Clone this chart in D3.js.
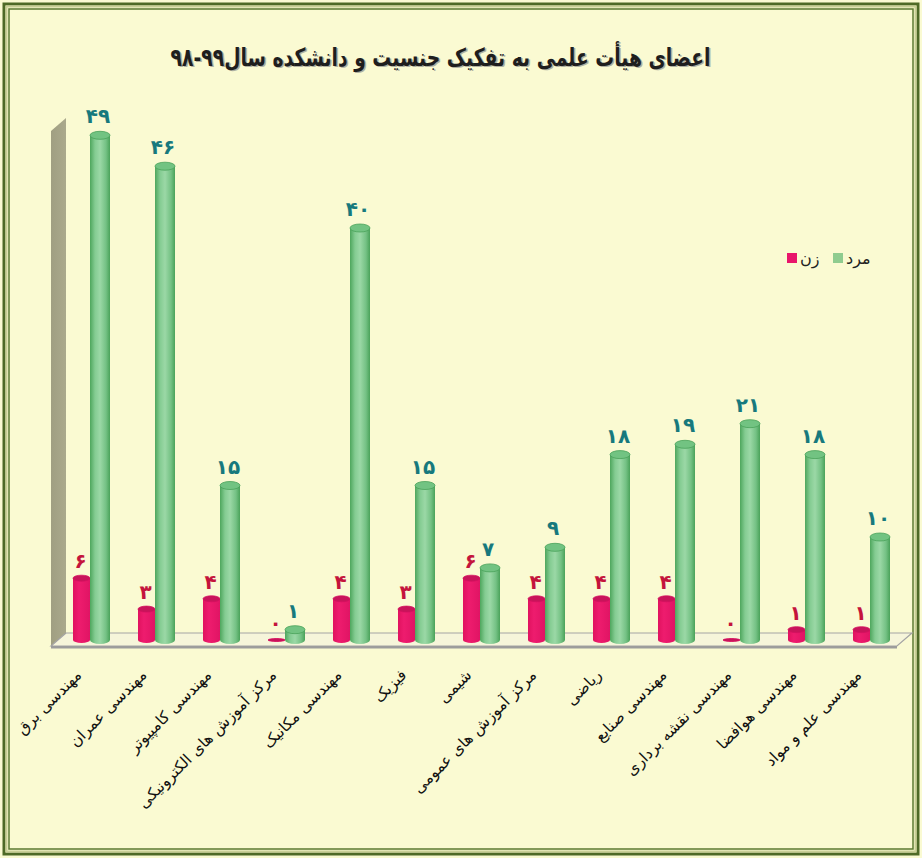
<!DOCTYPE html>
<html lang="fa">
<head>
<meta charset="utf-8">
<script src="https://cdn.jsdelivr.net/npm/d3@7/dist/d3.min.js"></script>
<style>
  html, body { margin: 0; padding: 0; background: #fafad2; }
  svg { display: block; }
  text { font-family: "DejaVu Sans", "Noto Sans", sans-serif; }
</style>
</head>
<body>
<svg id="chart" width="922" height="858"></svg>
<script>
// Faculty members by gender and faculty
const categories = [
  "مهندسی برق",
  "مهندسی عمران",
  "مهندسی کامپیوتر",
  "مرکز آموزش های الکترونیکی",
  "مهندسی مکانیک",
  "فیزیک",
  "شیمی",
  "مرکز آموزش های عمومی",
  "ریاضی",
  "مهندسی صنایع",
  "مهندسی نقشه برداری",
  "مهندسی هوافضا",
  "مهندسی علم و مواد"
];
const women = [6, 3, 4, 0, 4, 3, 6, 4, 4, 4, 0, 1, 1];
const men   = [49, 46, 15, 1, 40, 15, 7, 9, 18, 19, 21, 18, 10];
const seriesNames = ["زن", "مرد"];
const titleText = "اعضای هیأت علمی به تفکیک جنسیت و دانشکده سال۹۹-۹۸";

const faDigits = "۰۱۲۳۴۵۶۷۸۹";
const toFa = n => String(n).replace(/\d/g, d => faDigits[+d]);

const svg = d3.select("#chart");
const W = 922, H = 858;

// frame
svg.append("rect").attr("x", 0).attr("y", 0).attr("width", W).attr("height", H).attr("fill", "#fafad2");
svg.append("rect").attr("x", 4).attr("y", 4).attr("width", W - 8).attr("height", H - 8)
  .attr("fill", "none").attr("stroke", "#4e6a26").attr("stroke-width", 3);
svg.append("rect").attr("x", 6.5).attr("y", 6.5).attr("width", W - 13).attr("height", H - 13)
  .attr("fill", "none").attr("stroke", "#c9cf95").attr("stroke-width", 2);
svg.append("rect").attr("x", 9).attr("y", 9).attr("width", W - 18).attr("height", H - 18)
  .attr("fill", "none").attr("stroke", "#5b7930").attr("stroke-width", 1.5);

// gradients
const defs = svg.append("defs");
const gGreen = defs.append("linearGradient").attr("id", "gGreen").attr("x1", 0).attr("x2", 1).attr("y1", 0).attr("y2", 0);
[[0, "#4ea65d"], [0.25, "#84cc92"], [0.5, "#9bd8a6"], [0.8, "#74c184"], [1, "#4aa25a"]]
  .forEach(([o, c]) => gGreen.append("stop").attr("offset", o).attr("stop-color", c));
const gPink = defs.append("linearGradient").attr("id", "gPink").attr("x1", 0).attr("x2", 1).attr("y1", 0).attr("y2", 0);
[[0, "#e0125f"], [0.35, "#ee1c6e"], [1, "#e01464"]]
  .forEach(([o, c]) => gPink.append("stop").attr("offset", o).attr("stop-color", c));
const gWall = defs.append("linearGradient").attr("id", "gWall").attr("x1", 0).attr("x2", 1).attr("y1", 0).attr("y2", 0);
[[0, "#a09f82"], [1, "#aaa98c"]]
  .forEach(([o, c]) => gWall.append("stop").attr("offset", o).attr("stop-color", c));

// scales
const x0 = d3.scaleBand().domain(categories).range([58, 903]).paddingInner(0).paddingOuter(0);
const x1 = d3.scaleBand().domain(seriesNames).range([-20, 20]).padding(0);
const y = d3.scaleLinear().domain([0, 50]).range([640, 125]);

// 3D depth of the plot box
const depthDx = 15, depthDy = 13;
const frontY = y(0) + 6, backY = frontY - depthDy;
const leftX = 51, rightX = 897;
const topFront = frontY - (y(0) - y(50));

// back wall (left side)
svg.append("polygon")
  .attr("points", [[leftX, topFront], [leftX + depthDx, topFront - depthDy], [leftX + depthDx, backY], [leftX, frontY]].join(" "))
  .attr("fill", "url(#gWall)");

// floor
svg.append("polygon")
  .attr("points", [[leftX, frontY], [leftX + depthDx, backY], [rightX + depthDx, backY], [rightX, frontY]].join(" "))
  .attr("fill", "#f6f5da").attr("stroke", "#a3a3a3").attr("stroke-width", 1.2);
svg.append("polygon")
  .attr("points", [[leftX, frontY], [rightX, frontY], [rightX, frontY + 2.5], [leftX, frontY + 2.5]].join(" "))
  .attr("fill", "#9c9c9c");

// bars as cylinders
function cylinder(g, cx, w, v, side, ry) {
  const top = y(v), base = y(0);
  const fill = side === "m" ? "url(#gGreen)" : "url(#gPink)";
  const rim = side === "m" ? "#4aa25a" : "#d41060";
  g.append("ellipse").attr("cx", cx).attr("cy", base).attr("rx", w / 2).attr("ry", ry).attr("fill", fill);
  g.append("rect").attr("x", cx - w / 2).attr("y", top).attr("width", w).attr("height", Math.max(0, base - top)).attr("fill", fill);
  g.append("ellipse").attr("cx", cx).attr("cy", top).attr("rx", w / 2).attr("ry", ry)
    .attr("fill", side === "m" ? "#72c382" : "#c8145a")
    .attr("stroke", rim).attr("stroke-width", 0.8);
}

const groups = svg.append("g").selectAll("g").data(categories).join("g")
  .attr("transform", d => `translate(${x0(d) + x0.bandwidth() / 2},0)`);

groups.each(function (d, i) {
  const g = d3.select(this);
  const pw = 17, gw = 20;
  const pc = x1("زن") + x1.bandwidth() / 2 + 1;
  const gc = x1("مرد") + x1.bandwidth() / 2 - 0.5;
  cylinder(g, pc, pw, women[i], "w", women[i] === 0 ? 1.5 : 3);
  cylinder(g, gc, gw, men[i], "m", 4);
  g.append("text").attr("x", pc - 1).attr("y", y(women[i]) - 10)
    .attr("text-anchor", "middle").attr("font-size", 20).attr("font-weight", "bold")
    .attr("fill", "#c4143c").text(toFa(women[i]));
  g.append("text").attr("x", gc - 2).attr("y", y(men[i]) - 12)
    .attr("text-anchor", "middle").attr("font-size", 20).attr("font-weight", "bold")
    .attr("fill", "#17797d").text(toFa(men[i]));
});

// category labels
svg.append("g").selectAll("text").data(categories).join("text")
  .attr("transform", d => `translate(${x0(d) + x0.bandwidth() / 2 - 8},676) rotate(-45)`)
  .attr("text-anchor", "end").attr("font-size", 15.5).attr("fill", "#111")
  .text(d => d);

// title with soft shadow
svg.append("text").attr("x", 442).attr("y", 67).attr("text-anchor", "middle")
  .attr("direction", "rtl").attr("font-size", 25).attr("font-weight", "bold")
  .attr("textLength", 540).attr("lengthAdjust", "spacingAndGlyphs")
  .attr("fill", "#b0b0a0").text(titleText);
svg.append("text").attr("x", 440.5).attr("y", 65.5).attr("text-anchor", "middle")
  .attr("direction", "rtl").attr("font-size", 25).attr("font-weight", "bold")
  .attr("textLength", 540).attr("lengthAdjust", "spacingAndGlyphs")
  .attr("fill", "#1e1e1e").text(titleText);

// legend
const legend = svg.append("g");
const legendItems = [
  { name: "زن", color: "#e8156b", sx: 787, tx: 800 },
  { name: "مرد", color: "#8fcc8f", sx: 833, tx: 846 }
];
legendItems.forEach(it => {
  legend.append("rect").attr("x", it.sx).attr("y", 253).attr("width", 10).attr("height", 10).attr("fill", it.color);
  legend.append("text").attr("x", it.tx).attr("y", 264).attr("text-anchor", "start")
    .attr("font-size", 16).attr("fill", "#222").text(it.name);
});
</script>
</body>
</html>
